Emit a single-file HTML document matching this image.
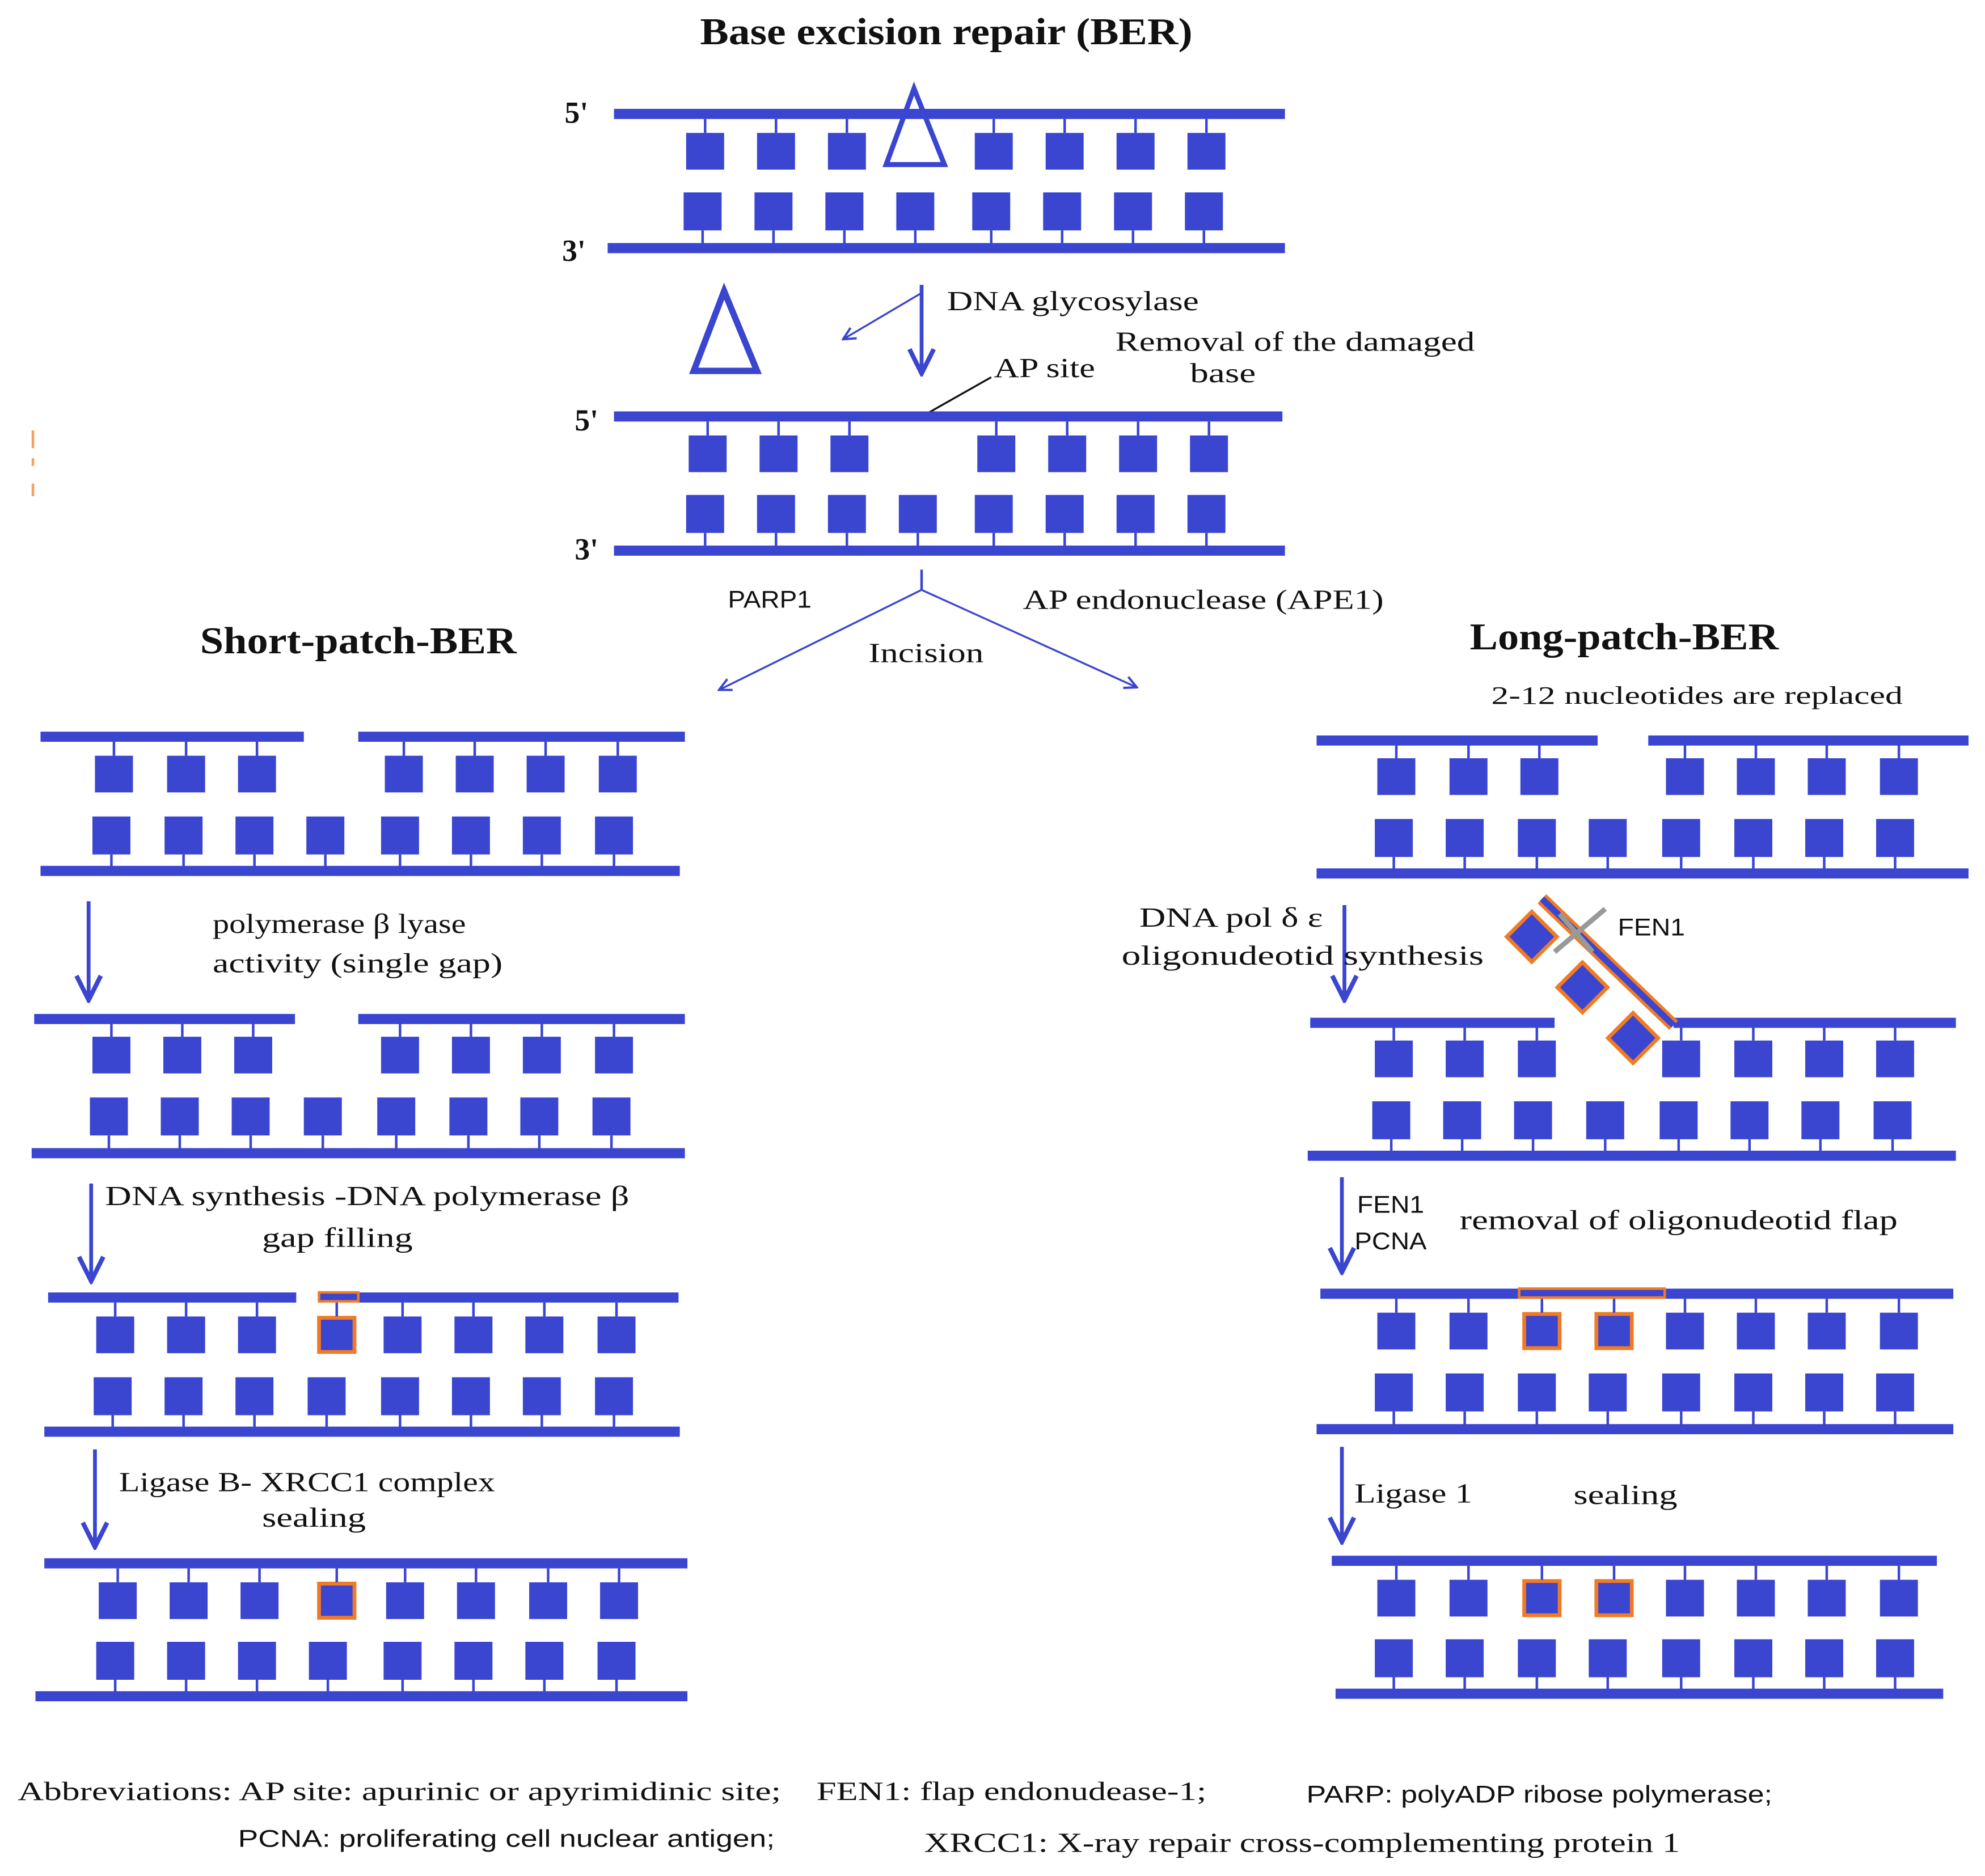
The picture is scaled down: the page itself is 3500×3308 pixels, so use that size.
<!DOCTYPE html>
<html><head><meta charset="utf-8"><style>
html,body{margin:0;padding:0;background:#fff;}
svg{display:block;}
text{font-family:"Liberation Serif",serif;fill:#111;}
.s{font-family:"Liberation Sans",sans-serif;}
</style></head><body>
<svg width="3500" height="3308" viewBox="0 0 1568 1482" xmlns="http://www.w3.org/2000/svg">
<defs>
<g id="tb"><rect x="-15" y="0" width="30" height="29" fill="#3a45d0"/><rect x="-1" y="-11" width="2" height="11" fill="#3a45d0"/></g>
<g id="bb"><rect x="-15" y="0" width="30" height="30" fill="#3a45d0"/><rect x="-1" y="30" width="2" height="11" fill="#3a45d0"/></g>
<g id="to"><rect x="-14" y="1" width="28" height="27" fill="#3a45d0" stroke="#f07b26" stroke-width="3"/><rect x="-1" y="-11" width="2" height="11" fill="#3a45d0"/></g>
<marker id="ah" viewBox="0 0 10 10" refX="9" refY="5" markerWidth="8" markerHeight="8" orient="auto-start-reverse"><path d="M1,1 L9,5 L1,9" fill="none" stroke="#3a45d0" stroke-width="1.5"/></marker>
</defs>
<g fill="#3a45d0">
<rect x="485" y="86" width="530" height="8"/>
<rect x="480" y="192" width="535" height="8"/>
</g>
<g>
<use href="#tb" x="557" y="105"/><use href="#tb" x="613" y="105"/><use href="#tb" x="669" y="105"/>
<use href="#tb" x="785" y="105"/><use href="#tb" x="841" y="105"/><use href="#tb" x="897" y="105"/><use href="#tb" x="953" y="105"/>
<use href="#bb" x="555" y="152"/><use href="#bb" x="611" y="152"/><use href="#bb" x="667" y="152"/><use href="#bb" x="723" y="152"/>
<use href="#bb" x="783" y="152"/><use href="#bb" x="839" y="152"/><use href="#bb" x="895" y="152"/><use href="#bb" x="951" y="152"/>
</g>
<polygon points="722,70 700,130 746,130" fill="none" stroke="#3a45d0" stroke-width="4"/>
<text x="446" y="97" font-size="24" font-weight="bold">5'</text>
<text x="444" y="206" font-size="24" font-weight="bold">3'</text>
<text x="553" y="35" font-size="30" font-weight="bold" textLength="389" lengthAdjust="spacingAndGlyphs">Base excision repair (BER)</text>

<line x1="728" y1="225" x2="728" y2="295" stroke="#3a45d0" stroke-width="3" marker-end="url(#ah)"/>
<line x1="727" y1="232" x2="666" y2="268" stroke="#3a45d0" stroke-width="1.5" marker-end="url(#ah)"/>
<polygon points="572,230 548,293 598,293" fill="none" stroke="#3a45d0" stroke-width="5"/>
<text x="748" y="245" font-size="22" textLength="199" lengthAdjust="spacingAndGlyphs">DNA glycosylase</text>
<text x="881" y="277" font-size="22" textLength="284" lengthAdjust="spacingAndGlyphs">Removal of the damaged</text>
<text x="940" y="302" font-size="22" textLength="52" lengthAdjust="spacingAndGlyphs">base</text>
<text x="785" y="298" font-size="22" textLength="80" lengthAdjust="spacingAndGlyphs">AP site</text>
<line x1="730" y1="328" x2="783" y2="298" stroke="#111" stroke-width="1.5"/>

<rect x="485" y="325" width="528" height="8" fill="#3a45d0"/>
<rect x="485" y="431" width="530" height="8" fill="#3a45d0"/>
<use href="#tb" x="559" y="344"/><use href="#tb" x="615" y="344"/><use href="#tb" x="671" y="344"/>
<use href="#tb" x="787" y="344"/><use href="#tb" x="843" y="344"/><use href="#tb" x="899" y="344"/><use href="#tb" x="955" y="344"/>
<use href="#bb" x="557" y="391"/><use href="#bb" x="613" y="391"/><use href="#bb" x="669" y="391"/><use href="#bb" x="725" y="391"/>
<use href="#bb" x="785" y="391"/><use href="#bb" x="841" y="391"/><use href="#bb" x="897" y="391"/><use href="#bb" x="953" y="391"/>
<text x="454" y="340" font-size="24" font-weight="bold">5'</text>
<text x="454" y="442" font-size="24" font-weight="bold">3'</text>

<line x1="728" y1="450" x2="728" y2="466" stroke="#3a45d0" stroke-width="2"/>
<line x1="728" y1="466" x2="568" y2="545" stroke="#3a45d0" stroke-width="1.5" marker-end="url(#ah)"/>
<line x1="728" y1="466" x2="898" y2="543" stroke="#3a45d0" stroke-width="1.5" marker-end="url(#ah)"/>
<text x="575" y="480" font-size="19" class="s" textLength="66" lengthAdjust="spacingAndGlyphs">PARP1</text>
<text x="808" y="481" font-size="22" textLength="285" lengthAdjust="spacingAndGlyphs">AP endonuclease (APE1)</text>
<text x="686" y="523" font-size="22" textLength="91" lengthAdjust="spacingAndGlyphs">Incision</text>
<text x="158" y="516" font-size="30" font-weight="bold" textLength="250" lengthAdjust="spacingAndGlyphs">Short-patch-BER</text>
<text x="1161" y="513" font-size="30" font-weight="bold" textLength="244" lengthAdjust="spacingAndGlyphs">Long-patch-BER</text>
<text x="1178" y="556" font-size="20" textLength="325" lengthAdjust="spacingAndGlyphs">2-12 nucleotides are replaced</text>
<rect x="25" y="340" width="2" height="14" fill="#f5a060"/><rect x="25" y="362" width="2" height="6" fill="#f5a060"/><rect x="25" y="382" width="2" height="10" fill="#f5a060"/>

<rect x="32" y="578" width="208" height="8" fill="#3a45d0"/><rect x="283" y="578" width="258" height="8" fill="#3a45d0"/>
<rect x="32" y="684" width="505" height="8" fill="#3a45d0"/>
<use href="#tb" x="90" y="597"/><use href="#tb" x="147" y="597"/><use href="#tb" x="203" y="597"/><use href="#tb" x="319" y="597"/><use href="#tb" x="375" y="597"/><use href="#tb" x="431" y="597"/><use href="#tb" x="488" y="597"/>
<use href="#bb" x="88" y="645"/><use href="#bb" x="145" y="645"/><use href="#bb" x="201" y="645"/><use href="#bb" x="257" y="645"/><use href="#bb" x="316" y="645"/><use href="#bb" x="372" y="645"/><use href="#bb" x="428" y="645"/><use href="#bb" x="485" y="645"/>
<line x1="70" y1="712" x2="70" y2="790" stroke="#3a45d0" stroke-width="3" marker-end="url(#ah)"/>
<text x="168" y="737" font-size="22" textLength="200" lengthAdjust="spacingAndGlyphs">polymerase β lyase</text>
<text x="168" y="768" font-size="22" textLength="229" lengthAdjust="spacingAndGlyphs">activity (single gap)</text>

<rect x="27" y="801" width="206" height="8" fill="#3a45d0"/><rect x="283" y="801" width="258" height="8" fill="#3a45d0"/>
<rect x="25" y="907" width="516" height="8" fill="#3a45d0"/>
<use href="#tb" x="88" y="819"/><use href="#tb" x="144" y="819"/><use href="#tb" x="200" y="819"/><use href="#tb" x="316" y="819"/><use href="#tb" x="372" y="819"/><use href="#tb" x="428" y="819"/><use href="#tb" x="485" y="819"/>
<use href="#bb" x="86" y="867"/><use href="#bb" x="142" y="867"/><use href="#bb" x="198" y="867"/><use href="#bb" x="255" y="867"/><use href="#bb" x="313" y="867"/><use href="#bb" x="370" y="867"/><use href="#bb" x="426" y="867"/><use href="#bb" x="483" y="867"/>
<line x1="72" y1="935" x2="72" y2="1012" stroke="#3a45d0" stroke-width="3" marker-end="url(#ah)"/>
<text x="83" y="952" font-size="22" textLength="414" lengthAdjust="spacingAndGlyphs">DNA synthesis -DNA polymerase β</text>
<text x="207" y="985" font-size="22" textLength="119" lengthAdjust="spacingAndGlyphs">gap filling</text>

<rect x="38" y="1021" width="196" height="8" fill="#3a45d0"/><rect x="282" y="1021" width="254" height="8" fill="#3a45d0"/>
<rect x="252" y="1021" width="31" height="7" fill="#3a45d0" stroke="#f07b26" stroke-width="2"/>
<rect x="35" y="1127" width="502" height="8" fill="#3a45d0"/>
<use href="#tb" x="91" y="1040"/><use href="#tb" x="147" y="1040"/><use href="#tb" x="203" y="1040"/><use href="#to" x="266" y="1040"/><use href="#tb" x="318" y="1040"/><use href="#tb" x="374" y="1040"/><use href="#tb" x="430" y="1040"/><use href="#tb" x="487" y="1040"/>
<use href="#bb" x="89" y="1088"/><use href="#bb" x="145" y="1088"/><use href="#bb" x="201" y="1088"/><use href="#bb" x="258" y="1088"/><use href="#bb" x="316" y="1088"/><use href="#bb" x="372" y="1088"/><use href="#bb" x="428" y="1088"/><use href="#bb" x="485" y="1088"/>
<line x1="75" y1="1145" x2="75" y2="1222" stroke="#3a45d0" stroke-width="3" marker-end="url(#ah)"/>
<text x="94" y="1178" font-size="22" textLength="297" lengthAdjust="spacingAndGlyphs">Ligase B- XRCC1 complex</text>
<text x="207" y="1206" font-size="22" textLength="82" lengthAdjust="spacingAndGlyphs">sealing</text>

<rect x="35" y="1231" width="508" height="8" fill="#3a45d0"/>
<rect x="28" y="1336" width="515" height="8" fill="#3a45d0"/>
<use href="#tb" x="93" y="1250"/><use href="#tb" x="149" y="1250"/><use href="#tb" x="205" y="1250"/><use href="#to" x="266" y="1250"/><use href="#tb" x="320" y="1250"/><use href="#tb" x="376" y="1250"/><use href="#tb" x="433" y="1250"/><use href="#tb" x="489" y="1250"/>
<use href="#bb" x="91" y="1297"/><use href="#bb" x="147" y="1297"/><use href="#bb" x="203" y="1297"/><use href="#bb" x="259" y="1297"/><use href="#bb" x="318" y="1297"/><use href="#bb" x="374" y="1297"/><use href="#bb" x="430" y="1297"/><use href="#bb" x="487" y="1297"/>

<rect x="1040" y="581" width="222" height="8" fill="#3a45d0"/><rect x="1302" y="581" width="253" height="8" fill="#3a45d0"/>
<rect x="1040" y="686" width="515" height="8" fill="#3a45d0"/>
<use href="#tb" x="1103" y="599"/><use href="#tb" x="1160" y="599"/><use href="#tb" x="1216" y="599"/><use href="#tb" x="1331" y="599"/><use href="#tb" x="1387" y="599"/><use href="#tb" x="1443" y="599"/><use href="#tb" x="1500" y="599"/>
<use href="#bb" x="1101" y="647"/><use href="#bb" x="1157" y="647"/><use href="#bb" x="1214" y="647"/><use href="#bb" x="1270" y="647"/><use href="#bb" x="1328" y="647"/><use href="#bb" x="1385" y="647"/><use href="#bb" x="1441" y="647"/><use href="#bb" x="1497" y="647"/>
<line x1="1062" y1="715" x2="1062" y2="790" stroke="#3a45d0" stroke-width="3" marker-end="url(#ah)"/>
<text x="900" y="732" font-size="22" textLength="145" lengthAdjust="spacingAndGlyphs">DNA pol δ ε</text>
<text x="886" y="762" font-size="22" textLength="286" lengthAdjust="spacingAndGlyphs">oligonudeotid synthesis</text>

<rect x="1035" y="804" width="193" height="8" fill="#3a45d0"/><rect x="1322" y="804" width="223" height="8" fill="#3a45d0"/>
<rect x="1033" y="909" width="512" height="8" fill="#3a45d0"/>
<use href="#tb" x="1101" y="822"/><use href="#tb" x="1157" y="822"/><use href="#tb" x="1214" y="822"/><use href="#tb" x="1328" y="822"/><use href="#tb" x="1385" y="822"/><use href="#tb" x="1441" y="822"/><use href="#tb" x="1497" y="822"/>
<use href="#bb" x="1099" y="870"/><use href="#bb" x="1155" y="870"/><use href="#bb" x="1211" y="870"/><use href="#bb" x="1268" y="870"/><use href="#bb" x="1326" y="870"/><use href="#bb" x="1382" y="870"/><use href="#bb" x="1438" y="870"/><use href="#bb" x="1495" y="870"/>
<line x1="1218" y1="710" x2="1322" y2="810" stroke="#f07b26" stroke-width="10"/>
<line x1="1218" y1="710" x2="1322" y2="810" stroke="#3a45d0" stroke-width="5"/>
<g stroke="#f07b26" stroke-width="3" fill="#3a45d0">
<rect x="-14" y="-14" width="28" height="28" transform="translate(1210,740) rotate(45)"/>
<rect x="-14" y="-14" width="28" height="28" transform="translate(1250,780) rotate(45)"/>
<rect x="-14" y="-14" width="28" height="28" transform="translate(1290,820) rotate(45)"/>
</g>
<line x1="1228" y1="752" x2="1268" y2="718" stroke="#999" stroke-width="4"/>
<line x1="1232" y1="722" x2="1258" y2="752" stroke="#999" stroke-width="4"/>
<text x="1278" y="739" font-size="19" class="s" textLength="53" lengthAdjust="spacingAndGlyphs">FEN1</text>
<line x1="1060" y1="930" x2="1060" y2="1005" stroke="#3a45d0" stroke-width="3" marker-end="url(#ah)"/>
<text x="1072" y="958" font-size="19" class="s" textLength="53" lengthAdjust="spacingAndGlyphs">FEN1</text>
<text x="1070" y="987" font-size="19" class="s" textLength="57" lengthAdjust="spacingAndGlyphs">PCNA</text>
<text x="1153" y="971" font-size="22" textLength="346" lengthAdjust="spacingAndGlyphs">removal of oligonudeotid flap</text>

<rect x="1043" y="1018" width="500" height="8" fill="#3a45d0"/>
<rect x="1200" y="1018" width="115" height="7" fill="#3a45d0" stroke="#f07b26" stroke-width="2"/>
<rect x="1040" y="1125" width="503" height="8" fill="#3a45d0"/>
<use href="#tb" x="1103" y="1037"/><use href="#tb" x="1160" y="1037"/><use href="#to" x="1218" y="1037"/><use href="#to" x="1275" y="1037"/><use href="#tb" x="1331" y="1037"/><use href="#tb" x="1387" y="1037"/><use href="#tb" x="1443" y="1037"/><use href="#tb" x="1500" y="1037"/>
<use href="#bb" x="1101" y="1085"/><use href="#bb" x="1157" y="1085"/><use href="#bb" x="1214" y="1085"/><use href="#bb" x="1270" y="1085"/><use href="#bb" x="1328" y="1085"/><use href="#bb" x="1385" y="1085"/><use href="#bb" x="1441" y="1085"/><use href="#bb" x="1497" y="1085"/>
<line x1="1060" y1="1143" x2="1060" y2="1218" stroke="#3a45d0" stroke-width="3" marker-end="url(#ah)"/>
<text x="1070" y="1187" font-size="22" textLength="93" lengthAdjust="spacingAndGlyphs">Ligase 1</text>
<text x="1243" y="1188" font-size="22" textLength="82" lengthAdjust="spacingAndGlyphs">sealing</text>

<rect x="1052" y="1229" width="478" height="8" fill="#3a45d0"/>
<rect x="1055" y="1334" width="480" height="8" fill="#3a45d0"/>
<use href="#tb" x="1103" y="1248"/><use href="#tb" x="1160" y="1248"/><use href="#to" x="1218" y="1248"/><use href="#to" x="1275" y="1248"/><use href="#tb" x="1331" y="1248"/><use href="#tb" x="1387" y="1248"/><use href="#tb" x="1443" y="1248"/><use href="#tb" x="1500" y="1248"/>
<use href="#bb" x="1101" y="1295"/><use href="#bb" x="1157" y="1295"/><use href="#bb" x="1214" y="1295"/><use href="#bb" x="1270" y="1295"/><use href="#bb" x="1328" y="1295"/><use href="#bb" x="1385" y="1295"/><use href="#bb" x="1441" y="1295"/><use href="#bb" x="1497" y="1295"/>

<text x="14" y="1422" font-size="21" textLength="603" lengthAdjust="spacingAndGlyphs">Abbreviations:  AP site: apurinic or apyrimidinic site;</text>
<text x="645" y="1422" font-size="21" textLength="308" lengthAdjust="spacingAndGlyphs">FEN1: flap endonudease-1;</text>
<text x="1032" y="1424" font-size="19" class="s" textLength="368" lengthAdjust="spacingAndGlyphs">PARP:  polyADP ribose polymerase;</text>
<text x="188" y="1459" font-size="19" class="s" textLength="424" lengthAdjust="spacingAndGlyphs">PCNA:  proliferating cell nuclear antigen;</text>
<text x="730" y="1463" font-size="22" textLength="597" lengthAdjust="spacingAndGlyphs">XRCC1: X-ray repair cross-complementing protein 1</text>
</svg>
</body></html>
